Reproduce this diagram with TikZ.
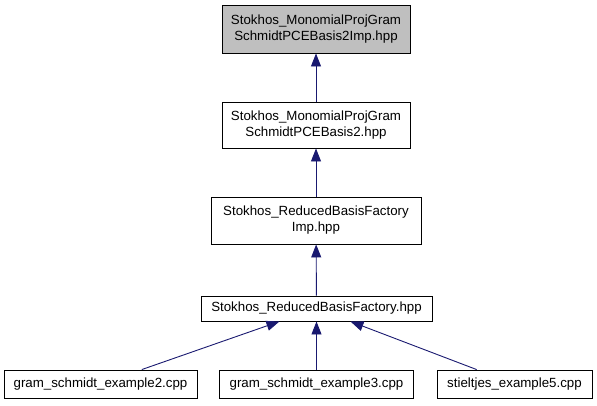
\documentclass[tikz,border=0pt]{standalone}
\usepackage{fontspec}
\setmainfont{Liberation Sans}
\usetikzlibrary{arrows.meta}
\definecolor{navy}{HTML}{191970}
\definecolor{boxgray}{HTML}{BFBFBF}
\tikzset{
  box/.style={draw=black, line width=0.9pt, inner sep=0pt, align=center,
    font=\fontsize{13.3}{16}\selectfont},
  dep/.style={draw=navy, line width=0.9pt, -{Triangle[length=13pt,width=10pt]}}
}
\begin{document}
\begin{tikzpicture}[x=1pt,y=-1pt]
\useasboundingbox (0,0) rectangle (597,405);
\node[box, fill=boxgray, minimum width=188pt, minimum height=48pt] (n1) at (316,29) {Stokhos\_MonomialProjGram\\SchmidtPCEBasis2Imp.hpp};
\node[box, minimum width=188pt, minimum height=46pt] (n2) at (316,125) {Stokhos\_MonomialProjGram\\SchmidtPCEBasis2.hpp};
\node[box, minimum width=210pt, minimum height=47pt] (n3) at (316,220.5) {Stokhos\_ReducedBasisFactory\\Imp.hpp};
\node[box, minimum width=231pt, minimum height=25pt] (n4) at (316.5,308.5) {Stokhos\_ReducedBasisFactory.hpp};
\node[box, minimum width=193pt, minimum height=28pt] (n5) at (100.5,384) {gram\_schmidt\_example2.cpp};
\node[box, minimum width=194pt, minimum height=28pt] (n6) at (316.5,384) {gram\_schmidt\_example3.cpp};
\node[box, minimum width=155pt, minimum height=28pt] (n7) at (514.5,384) {stieltjes\_example5.cpp};
\draw[dep] (n2) -- (n1);
\draw[dep] (n3) -- (n2);
\draw[dep] (n4) -- (n3);
\draw[dep] (n5) -- (n4);
\draw[dep] (n6) -- (n4);
\draw[dep] (n7) -- (n4);
\end{tikzpicture}
\end{document}
